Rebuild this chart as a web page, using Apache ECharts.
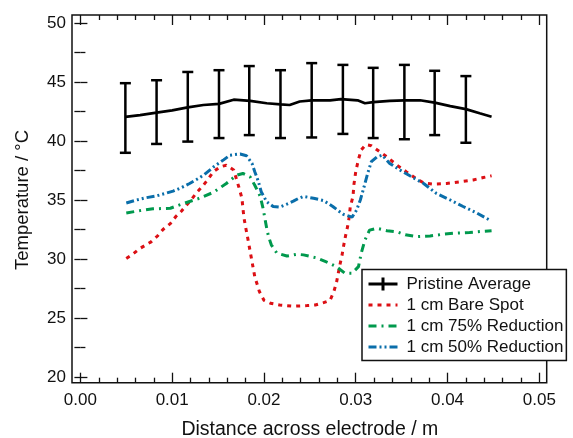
<!DOCTYPE html>
<html>
<head>
<meta charset="utf-8">
<script src="https://cdn.jsdelivr.net/npm/echarts@6/dist/echarts.min.js"></script>
<style>
html,body{margin:0;padding:0;background:#fff;}
#chart{width:573px;height:438px;}
</style>
</head>
<body>
<div id="chart"></div>
<script>
// ---- data (distance in m, temperature in degC) ----
const pristineX = [0.0049,0.0065,0.0083,0.0100,0.0117,0.0134,0.0151,0.0167,0.0185,0.0203,0.0218,0.0228,0.0239,0.0252,0.0272,0.0284,0.0302,0.0310,0.0319,0.0337,0.0353,0.0370,0.0386,0.0403,0.0420,0.0435,0.0448];
const pristineY = [42.05,42.2,42.4,42.6,42.85,43.05,43.15,43.5,43.4,43.2,43.1,43.05,43.35,43.45,43.45,43.55,43.45,43.2,43.3,43.4,43.45,43.45,43.25,42.95,42.7,42.35,42.05];

const errX  = [0.0049,0.0083,0.0117,0.0151,0.0184,0.0218,0.0252,0.0286,0.0319,0.0353,0.0386,0.0420];
const errHi = [44.9,45.15,45.85,46.0,46.35,46.0,46.6,46.45,46.2,46.45,45.95,45.5];
const errLo = [39.0,39.75,39.95,40.25,40.5,40.25,40.3,40.6,40.25,40.15,40.5,39.85];

const bareX = [0.0050,0.0056,0.0065,0.0077,0.0084,0.0090,0.0098,0.0104,0.0110,0.0116,0.0121,0.0127,0.0134,0.0139,0.0145,0.0152,0.0159,0.0167,0.0173,0.0176,0.0178,0.0180,0.0182,0.0184,0.0186,0.0188,0.0190,0.0195,0.0200,0.0207,0.0217,0.0224,0.0232,0.0247,0.0256,0.0265,0.0272,0.0276,0.0279,0.0281,0.0283,0.0285,0.0287,0.0289,0.0291,0.0293,0.0294,0.0297,0.0298,0.0300,0.0303,0.0306,0.0311,0.0317,0.0326,0.0334,0.0345,0.0355,0.0366,0.0374,0.0384,0.0399,0.0414,0.0428,0.0439,0.0448];
const bareY = [30.05,30.35,30.9,31.45,31.95,32.5,33.0,33.6,34.05,34.6,35.05,35.65,36.25,36.75,37.4,37.8,37.95,37.55,36.0,35.15,33.6,32.7,31.9,31.05,30.2,29.35,28.5,27.25,26.5,26.25,26.1,26.05,26.0,26.05,26.1,26.3,26.5,27.2,28.0,28.8,29.6,30.3,31.2,32.0,32.7,33.6,34.4,35.3,36.3,37.4,38.45,39.25,39.7,39.6,39.1,38.65,37.95,37.4,36.8,36.45,36.35,36.4,36.55,36.7,36.9,37.05];

const red75X = [0.0050,0.0065,0.0079,0.0098,0.0112,0.0128,0.0134,0.0145,0.0159,0.0170,0.0177,0.0185,0.0190,0.0196,0.0199,0.0201,0.0203,0.0205,0.0208,0.0214,0.0225,0.0236,0.0243,0.0257,0.0268,0.0279,0.0288,0.0296,0.0303,0.0306,0.0310,0.0315,0.0323,0.0334,0.0345,0.0354,0.0366,0.0381,0.0395,0.0410,0.0424,0.0439,0.0448];
const red75Y = [33.9,34.1,34.25,34.3,34.7,35.1,35.3,35.65,36.4,37.1,37.25,36.95,36.25,35.3,34.3,33.45,32.6,31.9,31.2,30.5,30.25,30.4,30.35,30.1,29.75,29.35,28.8,28.8,29.35,30.5,31.6,32.45,32.6,32.4,32.3,32.05,31.9,31.95,32.1,32.2,32.25,32.35,32.4];

const red50X = [0.0050,0.0061,0.0072,0.0083,0.0092,0.0101,0.0110,0.0119,0.0128,0.0135,0.0145,0.0156,0.0163,0.0174,0.0181,0.0187,0.0190,0.0194,0.0197,0.0203,0.0210,0.0217,0.0225,0.0232,0.0238,0.0243,0.0254,0.0265,0.0275,0.0286,0.0296,0.0301,0.0305,0.0309,0.0313,0.0317,0.0323,0.0329,0.0337,0.0348,0.0359,0.0374,0.0388,0.0403,0.0417,0.0432,0.0447];
const red50Y = [34.75,35.0,35.2,35.35,35.55,35.75,36.05,36.4,36.8,37.15,37.8,38.4,38.8,38.9,38.75,38.1,37.4,36.55,35.7,34.85,34.45,34.4,34.65,34.9,35.15,35.3,35.15,34.95,34.45,33.8,33.55,34.15,35.0,36.1,37.25,38.25,38.65,38.8,38.1,37.55,37.05,36.4,35.55,35.0,34.45,33.9,33.25];

const seriesNames = ['Pristine Average','1 cm Bare Spot','1 cm 75% Reduction','1 cm 50% Reduction'];
const seriesColors = ['#000000','#dc0f14','#00994d','#0a6eaa'];
const xTicks = [0,0.05,0.01];   // min, max, interval
const yTicks = [20,50,5];       // min, max, interval
const xTitle = 'Distance across electrode / m';
const yTitle = 'Temperature / \u00B0C';

const zip = (a,b)=>a.map((v,i)=>[v,b[i]]);
const F = '"Liberation Sans", Arial, Helvetica, sans-serif';
const INK = '#111';

const chart = echarts.init(document.getElementById('chart'), null, {renderer:'canvas'});

const tickStyle = {color:INK, width:1.3};
function xAx(extra){
  return Object.assign({
    type:'value', gridIndex:0, min:xTicks[0], max:xTicks[1], interval:xTicks[2],
    axisLine:{show:false},
    axisTick:{show:true, inside:true, length:10, lineStyle:tickStyle},
    minorTick:{show:true, splitNumber:5, length:5, lineStyle:tickStyle},
    splitLine:{show:false}, minorSplitLine:{show:false}
  }, extra);
}
function yAx(extra){
  return Object.assign({
    type:'value', gridIndex:0, min:yTicks[0], max:yTicks[1], interval:yTicks[2],
    axisLine:{show:false},
    axisTick:{show:true, inside:true, length:7, lineStyle:tickStyle},
    minorTick:{show:true, splitNumber:2, length:5, lineStyle:tickStyle},
    splitLine:{show:false}, minorSplitLine:{show:false}
  }, extra);
}
const hideSym = {color:'rgba(0,0,0,0)', borderColor:'rgba(0,0,0,0)', borderWidth:0, opacity:0};

const option = {
  animation:false,
  backgroundColor:'#fff',
  textStyle:{fontFamily:F},
  grid:[
    {left:80.4, top:23, right:33.7, bottom:61, containLabel:false, outerBoundsMode:'none'},
    {left:72, top:15, right:26.3, bottom:55.3, show:true, borderColor:INK, borderWidth:1.5, backgroundColor:'rgba(0,0,0,0)', outerBoundsMode:'none'}
  ],
  xAxis:[
    xAx({position:'bottom', offset:5.7,
      axisLabel:{show:true, fontSize:17, color:INK, margin:9, fontFamily:F, formatter:v=>v.toFixed(2)},
      name:xTitle, nameLocation:'middle', nameGap:37,
      nameTextStyle:{fontSize:19.5, color:INK, fontFamily:F}}),
    xAx({position:'top', offset:8, axisLabel:{show:false}}),
    {type:'value', gridIndex:1, show:false, min:0, max:1}
  ],
  yAxis:[
    yAx({position:'left', offset:8.4,
      axisLabel:{show:true, fontSize:17, color:INK, margin:6, fontFamily:F},
      name:yTitle, nameLocation:'middle', nameGap:40, nameRotate:90,
      nameTextStyle:{fontSize:18.5, color:INK, fontFamily:F}}),
    yAx({position:'right', offset:7.4, axisLabel:{show:false},
      axisTick:{show:true, inside:true, length:6, lineStyle:tickStyle},
      minorTick:{show:true, splitNumber:2, length:6, lineStyle:tickStyle}}),
    {type:'value', gridIndex:1, show:false, min:0, max:1}
  ],
  legend:{
    show:true, orient:'vertical', left:362, top:269.5,
    itemWidth:29, itemHeight:14, itemGap:4,
    padding:[6,3,5,5],
    borderColor:INK, borderWidth:1.5, backgroundColor:'#fff',
    selectedMode:false,
    textStyle:{fontSize:17, color:INK, fontFamily:F, padding:[0,0,0,4]},
    lineStyle:{width:3},
    data:[
      {name:seriesNames[0], icon:'path://M0,5h29v3h-29z M13,0h3v13h-3z'},
      {name:seriesNames[1], itemStyle:hideSym},
      {name:seriesNames[2], itemStyle:hideSym},
      {name:seriesNames[3], itemStyle:hideSym}
    ]
  },
  series:[
    {
      name:seriesNames[0], type:'line', xAxisIndex:0, yAxisIndex:0,
      data:zip(pristineX, pristineY), symbol:'none', smooth:false,
      itemStyle:{color:seriesColors[0]},
      lineStyle:{color:seriesColors[0], width:2.7}, z:5
    },
    {
      name:'errorbars', type:'custom', xAxisIndex:0, yAxisIndex:0,
      data:errX.map((x,i)=>[x, errLo[i], errHi[i]]),
      renderItem:function(params, api){
        const lo = api.coord([api.value(0), api.value(1)]);
        const hi = api.coord([api.value(0), api.value(2)]);
        const hw = 5.5;
        const st = {stroke:'#000', lineWidth:2.5, fill:null};
        return {type:'group', children:[
          {type:'line', shape:{x1:lo[0], y1:lo[1], x2:hi[0], y2:hi[1]}, style:st},
          {type:'line', shape:{x1:lo[0]-hw, y1:lo[1], x2:lo[0]+hw, y2:lo[1]}, style:st},
          {type:'line', shape:{x1:hi[0]-hw, y1:hi[1], x2:hi[0]+hw, y2:hi[1]}, style:st}
        ]};
      },
      z:5
    },
    {
      name:seriesNames[1], type:'line', xAxisIndex:0, yAxisIndex:0,
      data:zip(bareX, bareY), symbol:'none',
      itemStyle:{color:seriesColors[1]},
      lineStyle:{color:seriesColors[1], width:3, type:[4,5], cap:'butt'}
    },
    {
      name:seriesNames[2], type:'line', xAxisIndex:0, yAxisIndex:0,
      data:zip(red75X, red75Y), symbol:'none',
      itemStyle:{color:seriesColors[2]},
      lineStyle:{color:seriesColors[2], width:3, type:[8,5,2,5], cap:'butt'}
    },
    {
      name:seriesNames[3], type:'line', xAxisIndex:0, yAxisIndex:0,
      data:zip(red50X, red50Y), symbol:'none',
      itemStyle:{color:seriesColors[3]},
      lineStyle:{color:seriesColors[3], width:3, type:[8,3,2,3,2,3], cap:'butt'}
    }
  ]
};
chart.setOption(option);
</script>
</body>
</html>
